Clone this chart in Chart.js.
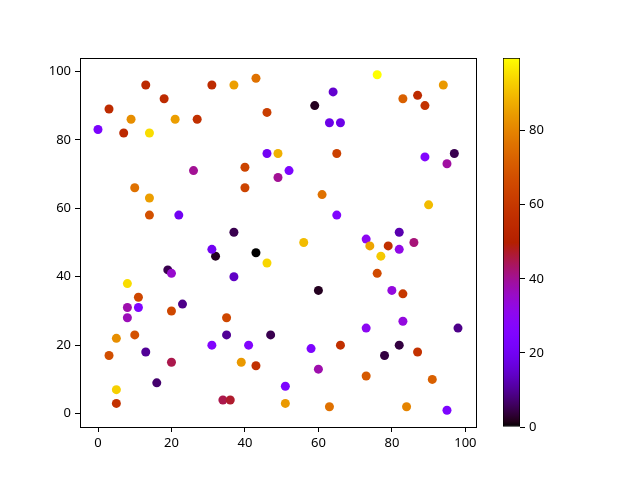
<!DOCTYPE html>
<html>
<head>
<meta charset="utf-8">
<script src="https://cdn.jsdelivr.net/npm/chart.js@4.4.1/dist/chart.umd.min.js"></script>
<style>
  html, body { margin: 0; padding: 0; background: #fff; }
  #wrap { position: relative; width: 640px; height: 480px; }
  #wrap canvas { position: absolute; left: 0; top: 0; }
  #cbar { pointer-events: none; }
</style>
</head>
<body>
<div id="wrap">
  <canvas id="scatter" width="640" height="480"></canvas>
  <canvas id="cbar" width="640" height="480"></canvas>
</div>
<script>
// values
const xs = [0, 3, 7, 9, 13, 14, 18, 21, 27, 31, 37, 43, 46, 10, 14, 14, 22, 26, 37, 40,
  40, 46, 49, 49, 52, 59, 64, 63, 66, 65, 61, 65, 56, 76, 83, 87, 89, 94, 89, 97,
  95, 90, 82, 82, 86, 73, 74, 79, 77, 76, 80, 83, 83, 73, 98, 82, 78, 87, 73, 91,
  84, 95, 66, 60, 60, 58, 51, 51, 63, 47, 43, 46, 37, 32, 31, 35, 35, 31, 39, 41,
  43, 34, 36, 19, 20, 23, 20, 20, 16, 13, 8, 11, 8, 11, 8, 10, 5, 3, 5, 5];
const ys = [83, 89, 82, 86, 96, 82, 92, 86, 86, 96, 96, 98, 88, 66, 63, 58, 58, 71, 53, 72,
  66, 76, 76, 69, 71, 90, 94, 85, 85, 76, 64, 58, 50, 99, 92, 93, 90, 96, 75, 76,
  73, 61, 53, 48, 50, 51, 49, 49, 46, 41, 36, 35, 27, 25, 25, 20, 17, 18, 11, 10,
  2, 1, 20, 36, 13, 19, 8, 3, 2, 23, 47, 44, 40, 46, 48, 28, 23, 20, 15, 20,
  14, 4, 4, 42, 41, 32, 30, 15, 9, 18, 38, 34, 31, 31, 28, 23, 22, 17, 7, 3];
const cs = [23, 55, 54, 82, 54, 95, 55, 85, 57, 55, 85, 76, 62, 76, 85, 68, 20, 40, 5, 64,
  64, 20, 88, 40, 24, 2, 15, 18, 18, 63, 76, 25, 90, 99.6, 72, 55, 58, 84, 26, 5,
  39, 90, 12, 32, 42, 30, 86, 57, 92, 66, 33, 60, 33, 30, 9, 4, 4, 58, 70, 72,
  80, 24, 57, 2, 38, 24, 24, 84, 76, 5, 0, 94, 14, 2, 20, 65, 10, 26, 84, 26,
  57, 45, 47, 5, 35, 9, 65, 45, 7, 10, 95, 65, 38, 25, 37, 68, 82, 67, 93, 58];
const xTicks = [0, 20, 40, 60, 80, 100];
const yTicks = [0, 20, 40, 60, 80, 100];
const cTicks = [0, 20, 40, 60, 80];

const cmin = Math.min(...cs);
const cmax = Math.max(...cs);

// matplotlib 'gnuplot' colormap
function gnuplot(t) {
  t = Math.max(0, Math.min(1, t));
  const r = Math.sqrt(t);
  const g = Math.pow(t, 3);
  const b = Math.max(0, Math.sin(2 * Math.PI * t));
  return `rgb(${Math.round(r * 255)},${Math.round(g * 255)},${Math.round(b * 255)})`;
}

const points = xs.map((x, i) => ({ x: x, y: ys[i] }));
const colors = cs.map(c => gnuplot((c - cmin) / (cmax - cmin)));

const tickFont = { family: '"Noto Sans", "DejaVu Sans", sans-serif', size: 13 };

// draws top and right spines
const frame = {
  id: 'frame',
  afterDatasetsDraw(chart) {
    const a = chart.chartArea;
    const ctx = chart.ctx;
    ctx.save();
    ctx.strokeStyle = '#000';
    ctx.lineWidth = 1;
    ctx.strokeRect(Math.round(a.left) + 0.5, Math.round(a.top) + 0.5,
      Math.round(a.right - a.left), Math.round(a.bottom - a.top));
    ctx.restore();
  },
};

new Chart(document.getElementById('scatter'), {
  type: 'scatter',
  data: {
    datasets: [
      {
        data: points,
        backgroundColor: colors,
        borderWidth: 0,
        pointRadius: 4.5,
        pointHoverRadius: 4.5,
      },
    ],
  },
  options: {
    responsive: false,
    animation: false,
    events: [],
    layout: { padding: { left: 0, right: 164, top: 58, bottom: 0 } },
    plugins: { legend: { display: false }, tooltip: { enabled: false } },
    scales: {
      x: {
        type: 'linear',
        min: -4.9,
        max: 102.9,
        afterBuildTicks: axis => { axis.ticks = xTicks.map(v => ({ value: v })); },
        afterFit: axis => { axis.height = 53; },
        grid: { drawOnChartArea: false, drawTicks: true, tickLength: 5, tickColor: '#000' },
        border: { color: '#000', width: 1 },
        ticks: { color: '#000', font: tickFont, padding: 3, maxRotation: 0 },
      },
      y: {
        type: 'linear',
        min: -3.9,
        max: 103.9,
        afterBuildTicks: axis => { axis.ticks = yTicks.map(v => ({ value: v })); },
        afterFit: axis => { axis.width = 80; },
        grid: { drawOnChartArea: false, drawTicks: true, tickLength: 5, tickColor: '#000' },
        border: { color: '#000', width: 1 },
        ticks: { color: '#000', font: tickFont, padding: 4 },
      },
    },
  },
  plugins: [frame],
});

// colour bar
function barGradient(context) {
  const chart = context.chart;
  const a = chart.chartArea;
  if (!a) return null;
  const ys = chart.scales.y;
  const g = chart.ctx.createLinearGradient(0, ys.getPixelForValue(cmin), 0, ys.getPixelForValue(cmax));
  for (let i = 0; i <= 64; i++) {
    g.addColorStop(i / 64, gnuplot(i / 64));
  }
  return g;
}

new Chart(document.getElementById('cbar'), {
  type: 'bar',
  data: {
    labels: ['c'],
    datasets: [
      {
        data: [[cmin, cmax]],
        backgroundColor: barGradient,
        borderColor: '#000',
        borderWidth: 1,
        borderSkipped: false,
        barPercentage: 1,
        categoryPercentage: 1,
      },
    ],
  },
  options: {
    responsive: false,
    animation: false,
    events: [],
    layout: { padding: { left: 503, right: 0, top: 58, bottom: 53 } },
    plugins: { legend: { display: false }, tooltip: { enabled: false } },
    scales: {
      x: { display: false },
      y: {
        position: 'right',
        min: cmin,
        max: cmax,
        afterBuildTicks: axis => { axis.ticks = cTicks.map(v => ({ value: v })); },
        afterFit: axis => { axis.width = 120; },
        grid: { drawOnChartArea: false, drawTicks: true, tickLength: 5, tickColor: '#000' },
        border: { display: false },
        ticks: { color: '#000', font: tickFont, padding: 4 },
      },
    },
  },
});
</script>
</body>
</html>
